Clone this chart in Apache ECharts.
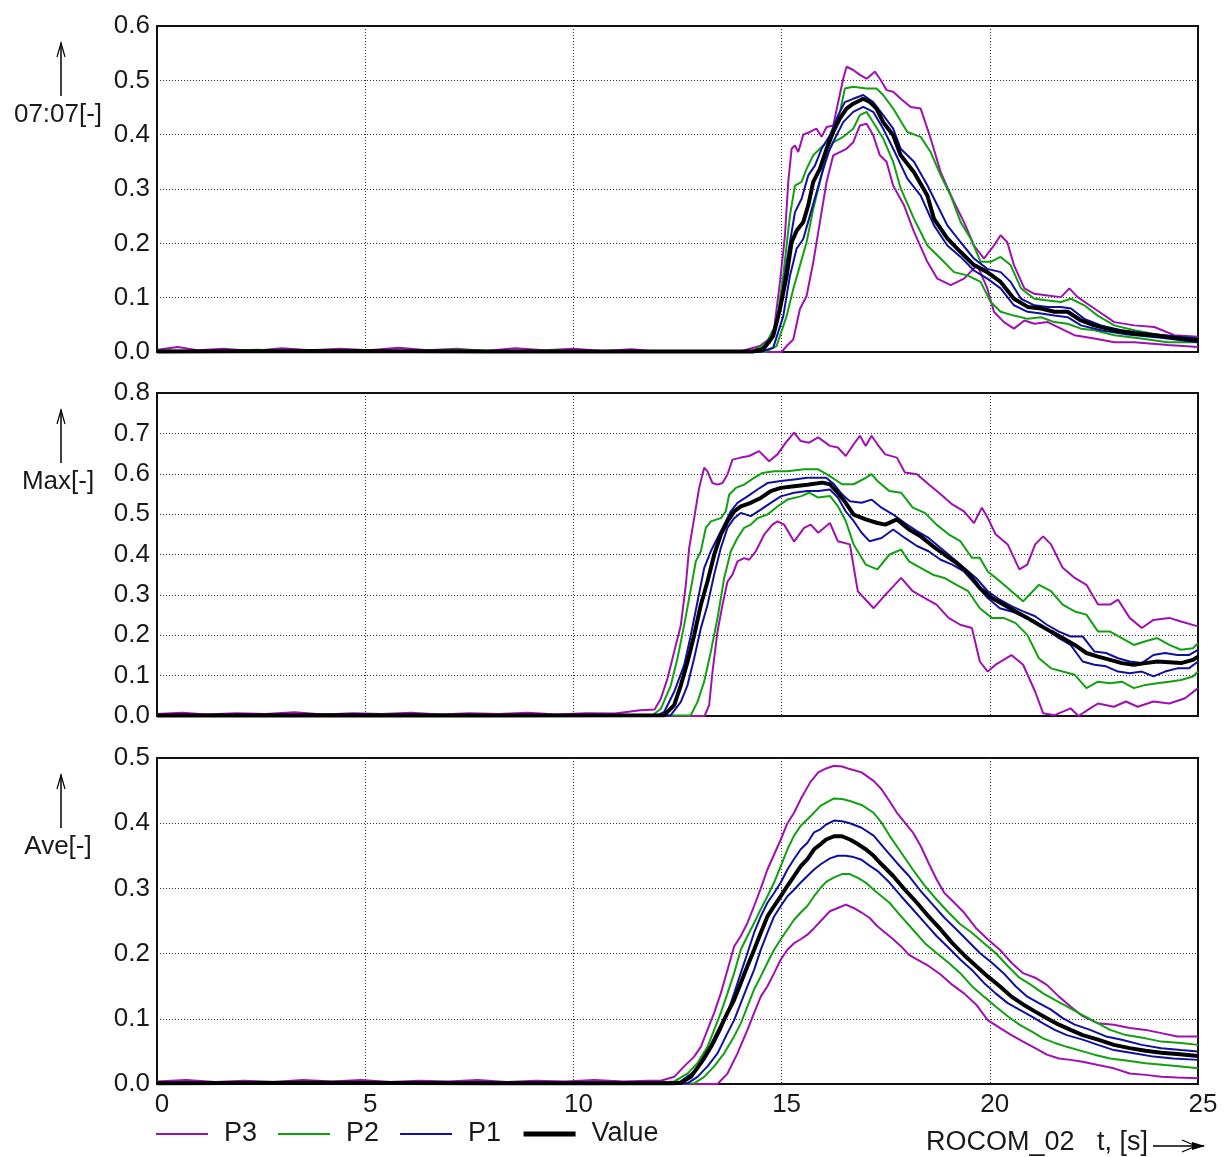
<!DOCTYPE html>
<html>
<head>
<meta charset="utf-8">
<script src="https://cdn.jsdelivr.net/npm/echarts@6/dist/echarts.min.js"></script>
<style>
  html, body { margin: 0; padding: 0; background: #fff; }
  #chart { width: 1226px; height: 1157px; }
</style>
</head>
<body>
<div id="chart"></div>
<script>
// ---- data: [t (s), value] ----
var panelNames = ['07:07[-]', 'Max[-]', 'Ave[-]'];
var panelMax = [0.6, 0.8, 0.5];
var xCaption = 'ROCOM_02   t, [s]';

// panel 1 : 07:07
var top_P3_hi = [[0,0.004],[0.5,0.009],[1,0.003],[1.6,0.006],[2.3,0.002],[3,0.007],[3.7,0.003],[4.4,0.006],[5.1,0.003],[5.8,0.008],[6.5,0.003],[7.2,0.006],[7.9,0.002],[8.6,0.007],[9.3,0.003],[10,0.006],[10.7,0.002],[11.4,0.005],[12,0.001],[13,0],[14,0.001],
  [14.48,0.011],[14.80,0.03],[14.96,0.128],[15.08,0.214],[15.16,0.313],[15.24,0.374],[15.32,0.38],[15.40,0.368],[15.52,0.40],[15.68,0.405],[15.84,0.411],[15.96,0.396],[16.08,0.414],[16.24,0.417],[16.36,0.46],[16.48,0.503],[16.56,0.525],[16.72,0.519],[16.88,0.51],[17.04,0.503],[17.24,0.516],[17.36,0.503],[17.52,0.482],[17.68,0.479],
  [17.86,0.466],[18.10,0.451],[18.34,0.448],[18.58,0.393],[18.82,0.331],[19.14,0.276],[19.38,0.239],[19.62,0.196],[19.86,0.172],[20.10,0.196],[20.26,0.215],[20.42,0.202],[20.58,0.16],[20.83,0.117],[21.07,0.107],[21.39,0.104],[21.71,0.101],[21.91,0.117],[22.11,0.101],[22.51,0.08],[22.99,0.055],[23.47,0.049],[23.95,0.046],[24.43,0.031],[25,0.028]];
var top_P3_lo = [[0,0],[5,0.001],[10,0],[15.0,0],[15.12,0.011],[15.28,0.023],[15.44,0.079],[15.60,0.103],[15.76,0.165],[15.92,0.239],[16.08,0.313],[16.24,0.362],[16.40,0.368],[16.56,0.374],[16.72,0.386],[16.88,0.417],[17.04,0.42],[17.20,0.399],[17.36,0.362],[17.52,0.35],[17.68,0.306],
  [17.94,0.27],[18.18,0.221],[18.50,0.166],[18.74,0.135],[19.06,0.123],[19.38,0.135],[19.70,0.16],[19.94,0.117],[20.10,0.074],[20.34,0.055],[20.58,0.043],[20.83,0.058],[21.07,0.052],[21.39,0.055],[21.71,0.043],[22.03,0.031],[22.51,0.025],[22.99,0.018],[23.47,0.018],[24.27,0.013],[25,0.009]];
var top_P2_hi = [[0,0.003],[1.2,0.001],[2.4,0.004],[3.6,0.001],[4.8,0.003],[6,0.001],[7.2,0.004],[8.4,0.001],[9.6,0.003],[10.8,0.001],[12,0.002],[13.5,0],[14.3,0.001],
  [14.64,0.017],[14.88,0.054],[15.04,0.14],[15.20,0.251],[15.32,0.306],[15.48,0.313],[15.60,0.337],[15.76,0.362],[15.92,0.374],[16.08,0.386],[16.24,0.405],[16.40,0.442],[16.52,0.485],[16.72,0.488],[17.04,0.485],[17.28,0.485],[17.44,0.473],[17.68,0.448],
  [17.86,0.425],[18.02,0.405],[18.34,0.396],[18.58,0.368],[18.82,0.325],[19.06,0.288],[19.30,0.239],[19.54,0.209],[19.78,0.166],[20.02,0.166],[20.26,0.175],[20.50,0.16],[20.75,0.117],[21.07,0.098],[21.39,0.095],[21.71,0.092],[21.95,0.098],[22.27,0.086],[22.59,0.067],[22.99,0.049],[23.47,0.04],[24.11,0.031],[25,0.025]];
var top_P2_lo = [[0,0.001],[7,0],[14.6,0],[14.88,0.011],[15.12,0.066],[15.28,0.116],[15.44,0.159],[15.60,0.202],[15.76,0.263],[15.92,0.313],[16.08,0.362],[16.24,0.386],[16.48,0.396],[16.72,0.411],[16.88,0.436],[17.04,0.442],[17.20,0.423],[17.44,0.393],[17.68,0.35],
  [17.86,0.301],[18.18,0.245],[18.50,0.196],[18.82,0.172],[19.14,0.147],[19.46,0.141],[19.78,0.129],[20.02,0.092],[20.26,0.074],[20.58,0.067],[20.91,0.061],[21.23,0.064],[21.55,0.055],[21.87,0.052],[22.19,0.043],[22.51,0.04],[22.99,0.031],[23.63,0.025],[24.27,0.018],[25,0.018]];
var top_P1_hi = [[0,0.001],[7,0.002],[14.4,0.001],[14.72,0.017],[14.96,0.079],[15.12,0.165],[15.32,0.257],[15.48,0.282],[15.64,0.325],[15.80,0.343],[15.96,0.374],[16.16,0.399],[16.36,0.436],[16.52,0.46],[16.72,0.466],[16.96,0.473],[17.20,0.46],[17.44,0.436],[17.68,0.411],
  [17.86,0.374],[18.18,0.35],[18.50,0.307],[18.74,0.27],[18.98,0.233],[19.30,0.202],[19.62,0.172],[19.94,0.153],[20.26,0.147],[20.50,0.129],[20.75,0.098],[21.07,0.086],[21.39,0.083],[21.71,0.083],[21.95,0.08],[22.27,0.061],[22.67,0.049],[23.15,0.04],[23.79,0.034],[24.43,0.029],[25,0.025]];
var top_P1_lo = [[0,0],[8,0.001],[14.5,0],[14.80,0.008],[15.04,0.066],[15.20,0.14],[15.36,0.19],[15.52,0.208],[15.68,0.251],[15.84,0.294],[16.00,0.337],[16.16,0.374],[16.32,0.399],[16.48,0.423],[16.72,0.442],[16.96,0.451],[17.20,0.442],[17.44,0.411],[17.68,0.374],
  [18.02,0.319],[18.34,0.288],[18.66,0.233],[18.98,0.196],[19.30,0.175],[19.62,0.15],[19.94,0.135],[20.26,0.117],[20.58,0.086],[20.91,0.074],[21.23,0.071],[21.55,0.067],[21.87,0.064],[22.19,0.049],[22.67,0.04],[23.31,0.032],[24.11,0.026],[25,0.018]];
var top_Value = [[0,0.001],[4,0.002],[8,0.001],[12,0.001],[14.3,0.001],[14.56,0.005],[14.80,0.03],[14.96,0.079],[15.12,0.14],[15.24,0.202],[15.36,0.223],[15.52,0.239],[15.64,0.27],[15.76,0.313],[15.92,0.337],[16.08,0.374],[16.24,0.405],[16.40,0.43],[16.56,0.448],[16.72,0.457],[16.96,0.466],[17.12,0.46],[17.28,0.448],[17.44,0.423],[17.68,0.399],
  [17.86,0.362],[18.18,0.331],[18.50,0.288],[18.66,0.245],[18.98,0.209],[19.30,0.184],[19.62,0.16],[19.94,0.147],[20.26,0.129],[20.58,0.098],[20.91,0.083],[21.23,0.08],[21.55,0.074],[21.87,0.074],[22.19,0.058],[22.51,0.049],[22.99,0.04],[23.47,0.034],[23.95,0.031],[24.43,0.026],[25,0.021]];

// panel 2 : Max
var mid_P3_hi = [[0,0.005],[0.6,0.008],[1.2,0.004],[1.9,0.007],[2.6,0.005],[3.3,0.009],[4,0.004],[4.7,0.007],[5.4,0.005],[6.1,0.008],[6.8,0.004],[7.5,0.007],[8.2,0.005],[8.9,0.008],[9.6,0.004],[10.3,0.007],[11,0.006],[11.6,0.014],[11.95,0.016],
  [12.10,0.043],[12.26,0.093],[12.42,0.159],[12.58,0.225],[12.70,0.325],[12.78,0.416],[12.90,0.49],[13.02,0.565],[13.14,0.615],[13.22,0.606],[13.34,0.577],[13.46,0.573],[13.58,0.577],[13.70,0.598],[13.82,0.635],[14.02,0.64],[14.22,0.644],[14.46,0.656],[14.70,0.631],[14.90,0.648],[15.10,0.677],[15.30,0.702],[15.46,0.681],[15.66,0.677],
  [15.88,0.69],[16.16,0.669],[16.35,0.665],[16.54,0.644],[16.73,0.673],[16.88,0.694],[17.02,0.669],[17.16,0.694],[17.30,0.673],[17.49,0.648],[17.77,0.64],[17.96,0.603],[18.25,0.599],[18.53,0.574],[18.82,0.549],[19.10,0.524],[19.38,0.507],[19.62,0.478],[19.81,0.516],[19.95,0.491],[20.14,0.45],[20.43,0.425],[20.71,0.363],[20.90,0.375],[21.09,0.425],[21.28,0.445],[21.47,0.425],[21.75,0.367],[22.04,0.342],[22.32,0.325],[22.60,0.276],[22.89,0.276],[23.08,0.288],[23.36,0.243],[23.65,0.218],[23.93,0.238],[24.31,0.243],[24.59,0.234],[25,0.222]];
var mid_P3_lo = [[0,0],[6,0.001],[13.15,0],[13.26,0.027],[13.34,0.109],[13.46,0.209],[13.58,0.275],[13.70,0.333],[13.82,0.35],[13.94,0.383],[14.10,0.391],[14.22,0.387],[14.38,0.408],[14.58,0.449],[14.78,0.474],[14.90,0.482],[15.06,0.474],[15.30,0.432],[15.54,0.466],[15.70,0.474],
  [15.88,0.454],[16.16,0.478],[16.35,0.433],[16.64,0.425],[16.83,0.309],[17.21,0.267],[17.49,0.3],[17.87,0.342],[18.15,0.309],[18.44,0.292],[18.72,0.276],[19.01,0.243],[19.29,0.226],[19.57,0.218],[19.76,0.135],[19.95,0.11],[20.14,0.127],[20.52,0.151],[20.80,0.127],[21.09,0.06],[21.28,0.007],[21.56,0.002],[21.94,0.019],[22.13,0],[22.41,0.019],[22.60,0.031],[22.98,0.023],[23.27,0.036],[23.55,0.023],[23.93,0.036],[24.31,0.031],[24.69,0.044],[25,0.069]];
var mid_P2_hi = [[0,0.002],[6,0.003],[11.9,0.002],[12.10,0.018],[12.34,0.076],[12.50,0.143],[12.66,0.225],[12.78,0.292],[12.94,0.383],[13.06,0.408],[13.18,0.466],[13.30,0.482],[13.54,0.49],[13.66,0.507],[13.74,0.548],[13.90,0.565],[14.10,0.573],[14.34,0.59],[14.54,0.602],[14.82,0.606],[15.14,0.606],[15.54,0.611],
  [15.88,0.611],[16.16,0.594],[16.45,0.574],[16.73,0.574],[17.02,0.59],[17.16,0.599],[17.30,0.582],[17.59,0.557],[17.87,0.553],[18.15,0.516],[18.44,0.503],[18.72,0.474],[19.01,0.45],[19.29,0.433],[19.57,0.392],[19.76,0.392],[19.95,0.358],[20.24,0.334],[20.52,0.309],[20.80,0.284],[21.18,0.325],[21.47,0.309],[21.75,0.276],[22.04,0.259],[22.32,0.251],[22.60,0.209],[22.89,0.209],[23.17,0.193],[23.46,0.176],[23.74,0.185],[24.02,0.193],[24.31,0.176],[24.59,0.164],[24.88,0.168],[25,0.18]];
var mid_P2_lo = [[0,0.001],[6,0],[12.82,0.002],[12.98,0.035],[13.14,0.085],[13.30,0.159],[13.46,0.242],[13.62,0.341],[13.78,0.408],[13.94,0.441],[14.10,0.466],[14.26,0.474],[14.42,0.49],[14.66,0.499],[14.90,0.519],[15.14,0.536],[15.46,0.544],[15.66,0.553],
  [15.88,0.541],[16.16,0.545],[16.35,0.52],[16.54,0.483],[16.73,0.425],[17.02,0.375],[17.30,0.363],[17.59,0.4],[17.87,0.412],[18.06,0.383],[18.34,0.367],[18.63,0.35],[18.91,0.342],[19.20,0.325],[19.48,0.309],[19.76,0.267],[20.05,0.243],[20.33,0.243],[20.62,0.23],[20.90,0.201],[21.18,0.143],[21.47,0.118],[21.75,0.11],[22.04,0.102],[22.32,0.069],[22.60,0.085],[22.89,0.081],[23.17,0.085],[23.46,0.069],[23.74,0.077],[24.02,0.081],[24.31,0.085],[24.59,0.089],[24.88,0.098],[25,0.11]];
var mid_P1_hi = [[0,0.001],[6,0.002],[12.0,0.001],[12.18,0.01],[12.42,0.06],[12.66,0.126],[12.82,0.2],[12.98,0.283],[13.14,0.366],[13.30,0.408],[13.46,0.441],[13.62,0.474],[13.78,0.507],[13.94,0.528],[14.18,0.544],[14.42,0.561],[14.66,0.577],[14.98,0.582],[15.30,0.586],[15.62,0.59],
  [16.07,0.59],[16.26,0.574],[16.45,0.549],[16.64,0.532],[16.92,0.528],[17.16,0.536],[17.40,0.516],[17.68,0.499],[17.96,0.478],[18.25,0.458],[18.53,0.441],[18.82,0.416],[19.10,0.392],[19.38,0.367],[19.67,0.342],[19.95,0.309],[20.24,0.288],[20.52,0.272],[20.80,0.259],[21.09,0.247],[21.37,0.226],[21.66,0.209],[21.94,0.197],[22.23,0.197],[22.51,0.16],[22.79,0.156],[23.08,0.143],[23.36,0.135],[23.65,0.131],[23.93,0.151],[24.21,0.156],[24.50,0.151],[24.78,0.151],[25,0.164]];
var mid_P1_lo = [[0,0],[6,0.001],[12.2,0],[12.34,0.002],[12.58,0.035],[12.74,0.076],[12.90,0.143],[13.06,0.217],[13.22,0.275],[13.38,0.35],[13.54,0.416],[13.70,0.466],[13.86,0.49],[14.02,0.503],[14.26,0.495],[14.50,0.511],[14.74,0.528],[14.98,0.544],[15.30,0.553],[15.62,0.557],
  [15.88,0.557],[16.16,0.561],[16.35,0.541],[16.54,0.507],[16.73,0.483],[16.92,0.454],[17.11,0.433],[17.40,0.441],[17.68,0.462],[17.96,0.441],[18.25,0.421],[18.53,0.408],[18.82,0.387],[19.10,0.375],[19.38,0.358],[19.67,0.325],[19.95,0.292],[20.24,0.267],[20.52,0.259],[20.80,0.247],[21.09,0.234],[21.37,0.214],[21.66,0.193],[21.94,0.176],[22.23,0.135],[22.51,0.127],[22.79,0.123],[23.08,0.11],[23.36,0.106],[23.65,0.11],[23.93,0.098],[24.21,0.11],[24.50,0.118],[24.78,0.118],[25,0.135]];
var mid_Value = [[0,0.001],[4,0.002],[8,0.001],[12.18,0.002],[12.42,0.027],[12.58,0.076],[12.74,0.134],[12.90,0.2],[13.06,0.275],[13.22,0.333],[13.38,0.399],[13.54,0.449],[13.70,0.482],[13.86,0.507],[14.02,0.519],[14.26,0.528],[14.50,0.54],[14.74,0.557],[14.98,0.565],[15.30,0.569],[15.62,0.573],
  [15.98,0.578],[16.16,0.574],[16.35,0.553],[16.54,0.528],[16.73,0.499],[17.02,0.487],[17.30,0.478],[17.49,0.474],[17.77,0.487],[18.06,0.462],[18.34,0.445],[18.63,0.421],[18.91,0.4],[19.20,0.379],[19.48,0.354],[19.76,0.317],[20.05,0.292],[20.33,0.276],[20.62,0.259],[20.90,0.243],[21.18,0.226],[21.47,0.209],[21.75,0.193],[22.04,0.176],[22.32,0.156],[22.60,0.147],[22.89,0.139],[23.17,0.131],[23.46,0.127],[23.74,0.131],[24.02,0.135],[24.31,0.133],[24.59,0.131],[24.88,0.139],[25,0.147]];

// panel 3 : Ave
var bot_P3_hi = [[0,0.004],[0.7,0.006],[1.4,0.003],[2.1,0.005],[2.8,0.003],[3.5,0.006],[4.2,0.004],[4.9,0.006],[5.6,0.003],[6.3,0.005],[7,0.004],[7.7,0.006],[8.4,0.003],[9.1,0.005],[9.8,0.004],[10.5,0.006],[11.2,0.004],[11.8,0.005],
  [12.10,0.005],[12.42,0.011],[12.66,0.027],[12.90,0.042],[13.06,0.057],[13.22,0.083],[13.38,0.109],[13.54,0.139],[13.70,0.175],[13.86,0.211],[14.02,0.227],[14.18,0.247],[14.34,0.273],[14.50,0.30],[14.66,0.329],[14.82,0.352],[14.98,0.375],[15.14,0.40],[15.30,0.416],[15.46,0.437],
  [15.69,0.463],[15.88,0.478],[16.07,0.484],[16.26,0.488],[16.45,0.487],[16.64,0.483],[16.92,0.478],[17.21,0.465],[17.40,0.452],[17.59,0.434],[17.77,0.416],[17.96,0.401],[18.15,0.386],[18.34,0.365],[18.53,0.339],[18.72,0.314],[18.91,0.293],[19.10,0.281],[19.38,0.263],[19.67,0.239],[19.95,0.222],[20.24,0.206],[20.52,0.186],[20.80,0.17],[21.09,0.163],[21.37,0.152],[21.66,0.134],[21.94,0.119],[22.23,0.104],[22.60,0.093],[22.98,0.091],[23.36,0.086],[23.74,0.083],[24.12,0.078],[24.50,0.073],[25,0.073]];
var bot_P3_lo = [[0,0],[8,0.001],[13.46,0],[13.70,0.016],[13.94,0.047],[14.18,0.083],[14.34,0.109],[14.50,0.134],[14.66,0.15],[14.82,0.17],[14.98,0.191],[15.14,0.206],[15.30,0.216],[15.46,0.222],[15.62,0.229],[15.78,0.239],[15.94,0.25],
  [16.16,0.265],[16.35,0.27],[16.54,0.275],[16.73,0.27],[16.92,0.263],[17.11,0.255],[17.30,0.242],[17.49,0.232],[17.68,0.222],[17.87,0.211],[18.06,0.198],[18.25,0.191],[18.53,0.181],[18.82,0.168],[19.10,0.152],[19.38,0.139],[19.67,0.122],[19.95,0.098],[20.24,0.086],[20.52,0.075],[20.80,0.065],[21.09,0.055],[21.37,0.045],[21.66,0.039],[21.94,0.037],[22.23,0.034],[22.60,0.029],[22.98,0.024],[23.36,0.016],[23.74,0.014],[24.12,0.011],[24.50,0.01],[25,0.009]];
var bot_P2_hi = [[0,0.002],[6,0.003],[12,0.002],[12.42,0.004],[12.74,0.016],[12.98,0.032],[13.22,0.057],[13.38,0.083],[13.54,0.109],[13.70,0.139],[13.86,0.17],[14.02,0.206],[14.18,0.227],[14.34,0.247],[14.50,0.268],[14.66,0.288],[14.82,0.309],[14.98,0.334],[15.14,0.36],[15.30,0.381],[15.46,0.396],[15.70,0.411],[15.94,0.427],
  [16.26,0.438],[16.45,0.437],[16.64,0.434],[16.92,0.428],[17.21,0.416],[17.40,0.401],[17.59,0.381],[17.87,0.355],[18.15,0.329],[18.44,0.304],[18.72,0.283],[19.01,0.263],[19.29,0.245],[19.57,0.232],[19.86,0.216],[20.14,0.201],[20.43,0.181],[20.71,0.163],[20.99,0.152],[21.28,0.139],[21.56,0.129],[21.85,0.119],[22.13,0.109],[22.51,0.096],[22.89,0.083],[23.27,0.075],[23.74,0.07],[24.12,0.065],[24.59,0.063],[25,0.06]];
var bot_P2_lo = [[0,0.001],[6,0],[12.90,0.001],[13.14,0.011],[13.38,0.027],[13.62,0.047],[13.86,0.073],[14.02,0.093],[14.18,0.119],[14.34,0.145],[14.50,0.165],[14.66,0.186],[14.82,0.206],[14.98,0.222],[15.14,0.237],[15.30,0.252],[15.46,0.263],[15.62,0.273],[15.78,0.288],[15.94,0.301],
  [16.07,0.310],[16.26,0.317],[16.45,0.322],[16.64,0.322],[16.83,0.316],[17.02,0.309],[17.21,0.298],[17.40,0.288],[17.59,0.278],[17.87,0.257],[18.15,0.237],[18.44,0.216],[18.72,0.201],[19.01,0.186],[19.29,0.17],[19.57,0.15],[19.86,0.134],[20.14,0.119],[20.43,0.104],[20.71,0.091],[20.99,0.081],[21.28,0.07],[21.56,0.063],[21.85,0.057],[22.13,0.052],[22.51,0.045],[22.89,0.039],[23.27,0.036],[23.74,0.032],[24.21,0.029],[24.59,0.027],[25,0.024]];
var bot_P1_hi = [[0,0.001],[6,0.002],[12.3,0.002],[12.58,0.004],[12.90,0.019],[13.14,0.037],[13.38,0.063],[13.54,0.083],[13.70,0.109],[13.86,0.139],[14.02,0.17],[14.18,0.201],[14.34,0.232],[14.50,0.257],[14.66,0.278],[14.82,0.293],[14.98,0.309],[15.14,0.329],[15.30,0.345],[15.46,0.36],[15.62,0.37],[15.78,0.386],[15.94,0.391],
  [16.07,0.398],[16.26,0.404],[16.45,0.403],[16.64,0.4],[16.92,0.393],[17.21,0.381],[17.49,0.36],[17.77,0.339],[18.06,0.319],[18.34,0.296],[18.63,0.275],[18.91,0.255],[19.20,0.237],[19.48,0.219],[19.76,0.201],[20.05,0.186],[20.33,0.17],[20.62,0.15],[20.90,0.134],[21.18,0.124],[21.47,0.114],[21.75,0.101],[22.04,0.091],[22.41,0.083],[22.79,0.073],[23.17,0.068],[23.65,0.06],[24.12,0.055],[24.59,0.052],[25,0.05]];
var bot_P1_lo = [[0,0],[6,0.001],[12.74,0.001],[12.98,0.011],[13.22,0.027],[13.46,0.047],[13.70,0.078],[13.86,0.098],[14.02,0.124],[14.18,0.15],[14.34,0.175],[14.50,0.206],[14.66,0.232],[14.82,0.257],[14.98,0.273],[15.14,0.288],[15.30,0.298],[15.46,0.309],[15.62,0.319],[15.78,0.329],[15.94,0.337],
  [16.16,0.346],[16.35,0.350],[16.54,0.350],[16.73,0.348],[16.92,0.344],[17.11,0.335],[17.30,0.327],[17.59,0.309],[17.87,0.288],[18.15,0.268],[18.44,0.247],[18.72,0.227],[19.01,0.209],[19.29,0.191],[19.57,0.175],[19.86,0.155],[20.14,0.139],[20.43,0.124],[20.71,0.114],[20.99,0.104],[21.28,0.093],[21.56,0.083],[21.85,0.075],[22.23,0.068],[22.60,0.06],[22.98,0.052],[23.46,0.047],[23.93,0.042],[24.40,0.039],[25,0.037]];
var bot_Value = [[0,0.001],[4,0.002],[8,0.001],[12.4,0.001],[12.58,0.002],[12.82,0.011],[13.06,0.032],[13.30,0.057],[13.54,0.088],[13.70,0.109],[13.86,0.129],[14.02,0.155],[14.18,0.181],[14.34,0.206],[14.50,0.232],[14.66,0.257],[14.82,0.273],[14.98,0.288],[15.14,0.304],[15.30,0.319],[15.46,0.334],[15.62,0.345],[15.78,0.36],[15.94,0.368],
  [16.07,0.375],[16.26,0.380],[16.45,0.38],[16.64,0.375],[16.83,0.368],[17.02,0.36],[17.21,0.35],[17.40,0.337],[17.68,0.319],[17.96,0.298],[18.25,0.278],[18.53,0.257],[18.82,0.237],[19.10,0.216],[19.38,0.198],[19.67,0.181],[19.95,0.165],[20.24,0.15],[20.52,0.134],[20.80,0.122],[21.09,0.111],[21.37,0.101],[21.66,0.091],[21.94,0.083],[22.23,0.075],[22.60,0.068],[22.98,0.06],[23.36,0.055],[23.74,0.051],[24.12,0.048],[24.50,0.046],[25,0.043]];

var panels = [
  { P3: [top_P3_hi, top_P3_lo], P2: [top_P2_hi, top_P2_lo], P1: [top_P1_hi, top_P1_lo], Value: [top_Value] },
  { P3: [mid_P3_hi, mid_P3_lo], P2: [mid_P2_hi, mid_P2_lo], P1: [mid_P1_hi, mid_P1_lo], Value: [mid_Value] },
  { P3: [bot_P3_hi, bot_P3_lo], P2: [bot_P2_hi, bot_P2_lo], P1: [bot_P1_hi, bot_P1_lo], Value: [bot_Value] }
];

// ---- styling ----
var FONT = '"Liberation Sans", Arial, sans-serif';
var TEXT = '#1a1a1a';
var legendNames = ['P3', 'P2', 'P1', 'Value'];
var lineColors = { P3: '#a010b0', P2: '#10a010', P1: '#1010a0', Value: '#000000' };
var lineWidths = { P3: 2, P2: 2, P1: 2, Value: 4 };
var legendWidths = { P3: 2, P2: 2, P1: 2, Value: 5 };
var gridTops = [26, 393, 758];
var gridHeights = [326, 323, 326];

var chart = echarts.init(document.getElementById('chart'));

var grids = [], xAxes = [], yAxes = [], series = [], graphics = [];
for (var i = 0; i < 3; i++) {
  grids.push({
    left: 157, right: 28, top: gridTops[i], height: gridHeights[i],
    show: true, borderColor: '#111', borderWidth: 2, backgroundColor: 'transparent'
  });
  xAxes.push({
    type: 'value', gridIndex: i, min: 0, max: 25, interval: 5,
    axisLine: { show: false }, axisTick: { show: false },
    axisLabel: {
      show: i === 2, fontSize: 26, fontFamily: FONT, color: TEXT,
      margin: 8, padding: [0, 0, 0, 10]
    },
    splitLine: {
      show: true, showMinLine: false, showMaxLine: false,
      lineStyle: { color: '#333', width: 1, type: [1, 2] }
    }
  });
  yAxes.push({
    type: 'value', gridIndex: i, min: 0, max: panelMax[i], interval: 0.1,
    axisLine: { show: false }, axisTick: { show: false },
    axisLabel: {
      fontSize: 26, fontFamily: FONT, color: TEXT, margin: 7,
      padding: [0, 0, 10, 0],
      formatter: function (v) { return v.toFixed(1); }
    },
    splitLine: {
      show: true, showMinLine: false, showMaxLine: false,
      lineStyle: { color: '#333', width: 1, type: [1, 2] }
    }
  });

  legendNames.forEach(function (name) {
    panels[i][name].forEach(function (d) {
      series.push({
        name: name, type: 'line', xAxisIndex: i, yAxisIndex: i,
        data: d, symbol: 'none', showSymbol: false, smooth: false,
        lineStyle: { color: lineColors[name], width: lineWidths[name] },
        itemStyle: { color: lineColors[name] },
        emphasis: { disabled: true }, silent: true
      });
    });
  });

  // axis name with upward arrow on the left
  var t = gridTops[i];
  graphics.push({
    type: 'line', shape: { x1: 61, y1: t + 70, x2: 61, y2: t + 17 },
    style: { stroke: '#000', lineWidth: 1.5 }
  });
  graphics.push({
    type: 'polyline', shape: { points: [[57, t + 31], [61, t + 17], [65, t + 31]] },
    style: { stroke: '#000', lineWidth: 1.2, fill: null }
  });
  graphics.push({
    type: 'text', x: 58, y: t + 89,
    style: { text: panelNames[i], font: '26px ' + FONT, fill: TEXT, align: 'center', verticalAlign: 'middle' }
  });
}

// x caption with arrow, bottom right
graphics.push({
  type: 'text', x: 1148, y: 1143,
  style: { text: xCaption, font: '27px ' + FONT, fill: TEXT, align: 'right', verticalAlign: 'middle' }
});
graphics.push({
  type: 'line', shape: { x1: 1153, y1: 1146, x2: 1204, y2: 1146 },
  style: { stroke: '#000', lineWidth: 1.5 }
});
graphics.push({
  type: 'polygon', shape: { points: [[1192, 1142], [1205, 1146], [1192, 1150]] },
  style: { fill: '#000' }
});
graphics.push({
  type: 'polyline', shape: { points: [[1182, 1140], [1196, 1146], [1182, 1152]] },
  style: { stroke: '#000', lineWidth: 1.2, fill: null }
});

var option = {
  animation: false,
  backgroundColor: '#fff',
  grid: grids,
  xAxis: xAxes,
  yAxis: yAxes,
  legend: {
    data: legendNames.map(function (n) {
      return { name: n, lineStyle: { color: lineColors[n], width: legendWidths[n] } };
    }),
    left: 155, top: 1119, padding: 0,
    itemWidth: 52, itemHeight: 14, itemGap: 20,
    selectedMode: false,
    itemStyle: { color: 'rgba(0,0,0,0)', borderColor: 'rgba(0,0,0,0)', borderWidth: 0, opacity: 0 },
    textStyle: { fontSize: 27, fontFamily: FONT, color: TEXT, padding: [0, 0, 0, 11], lineHeight: 30 }
  },
  series: series,
  graphic: graphics
};

chart.setOption(option);
</script>
</body>
</html>
